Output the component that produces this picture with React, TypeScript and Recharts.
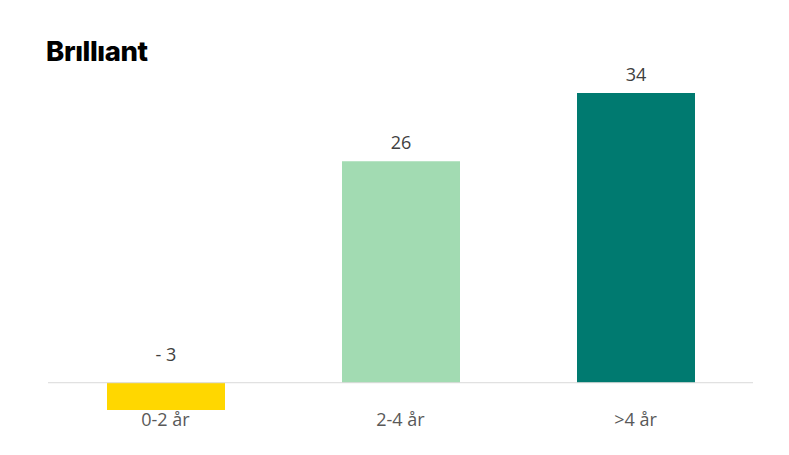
import React from "react";
import { BarChart, Bar, XAxis, YAxis, Cell, ReferenceLine, LabelList } from "recharts";

const categories = ["0-2 år", "2-4 år", ">4 år"];
const values = [-3.2, 26, 34];
const labels = ["- 3", "26", "34"];
const colors = ["#FFD700", "#A2DBB2", "#007A70"];

const data = categories.map((c, i) => ({ name: c, value: values[i], label: labels[i] }));

const FONT = "'Open Sans', 'Noto Sans', sans-serif";

const ValueLabel = (props: any) => {
  const { x, y, width, height, index } = props;
  const top = Math.min(y, y + height);
  const v = values[index];
  const baseline = v < 0 ? top - 22 : top - 12;
  return (
    <text
      x={x + width / 2}
      y={baseline}
      textAnchor="middle"
      fill="#404040"
      fontSize={18}
      fontFamily={FONT}
    >
      {labels[index]}
    </text>
  );
};

export default function App() {
  return (
    <div style={{ position: "absolute", left: 0, top: 0, width: 789, height: 455, background: "#fff" }}>
      <div
        style={{
          position: "absolute",
          left: 46,
          top: 35,
          fontFamily: "Inter, 'Liberation Sans', sans-serif",
          fontWeight: 800,
          fontSize: 27.5,
          letterSpacing: -0.4,
          color: "#000",
          lineHeight: "32px",
        }}
      >
        Brıllıant
      </div>
      <BarChart
        width={789}
        height={455}
        data={data}
        margin={{ top: 93, right: 36, bottom: 15, left: 48 }}
        style={{ position: "absolute", left: 0, top: 0 }}
      >
        <YAxis hide domain={[-3.2, 34]} />
        <XAxis
          dataKey="name"
          axisLine={false}
          tickLine={false}
          tickSize={0}
          tickMargin={3}
          height={30}
          tick={{ fill: "#595959", fontSize: 18, fontFamily: FONT }}
        />
        <ReferenceLine y={0} stroke="#D9D9D9" strokeWidth={1} />
        <Bar dataKey="value" barSize={118} isAnimationActive={false}>
          {data.map((d, i) => (
            <Cell key={d.name} fill={colors[i]} />
          ))}
          <LabelList dataKey="value" content={ValueLabel} />
        </Bar>
      </BarChart>
    </div>
  );
}
